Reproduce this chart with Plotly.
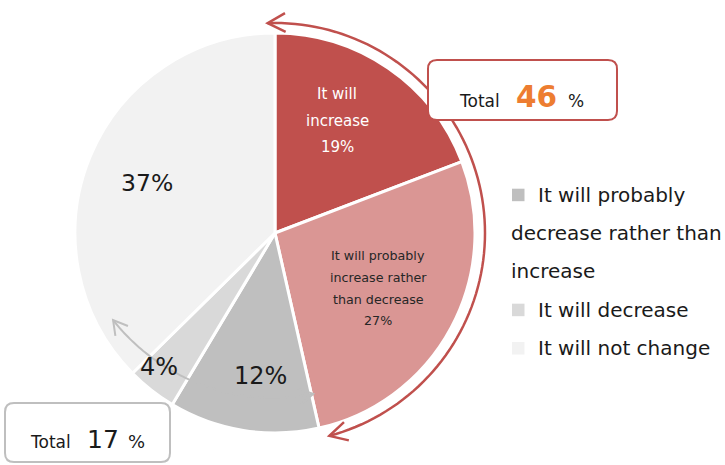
import numpy as np
import plotly.graph_objects as go

# ---------------- data ----------------
labels = [
    "It will increase",
    "It will probably increase rather than decrease",
    "It will probably decrease rather than increase",
    "It will decrease",
    "It will not change",
]
values = [19, 27, 12, 4, 37]
slice_text = [
    ["It will", "increase", "19%"],
    ["It will probably", "increase rather", "than decrease", "27%"],
    ["12%"],
    ["4%"],
    ["37%"],
]
legend_items = [2, 3, 4]
legend_lines = [
    ["It will probably", "decrease rather than", "increase"],
    ["It will decrease"],
    ["It will not change"],
]
total_increase = "46"
total_decrease = "17"

# ---------------- styles ----------------
W, H = 725, 465
FONT = "DejaVu Sans"
colors = ["#C0504D", "#DA9694", "#BFBFBF", "#D9D9D9", "#F2F2F2"]
CX, CY, R = 275, 233, 200  # pie centre / radius in px

def px(x):
    return x / W

def py(y):
    return 1 - y / H

fig = go.Figure()
fig.add_trace(go.Pie(
    labels=labels, values=values, sort=False, direction="clockwise", rotation=0,
    marker=dict(colors=colors, line=dict(color="white", width=3)),
    textinfo="none", hoverinfo="label+percent", showlegend=False,
    domain=dict(x=[px(CX - R), px(CX + R)], y=[py(CY + R), py(CY - R)]),
))

annotations = []
shapes = []

# slice labels, positioned from the slice mid-angles
label_style = [
    dict(size=15, color="#FFFFFF", gap=26.5, r=128.5, dth=-5.6),
    dict(size=12.7, color="#262626", gap=21.7, r=117, dth=0.0),
    dict(size=24, color="#1A1A1A", gap=0, r=143.7, dth=-3.3),
    dict(size=24, color="#1A1A1A", gap=0, r=177, dth=2.7),
    dict(size=23.5, color="#1A1A1A", gap=0, r=136.8, dth=-1.5),
]
tot = float(sum(values))
cum = 0.0
for i, v in enumerate(values):
    mid = (cum + v / 2) / tot * 360.0
    cum += v
    st = label_style[i]
    th = np.radians(mid + st["dth"])
    lx = CX + st["r"] * np.sin(th)
    ly = CY - st["r"] * np.cos(th)
    lines = slice_text[i]
    n = len(lines)
    for k, t in enumerate(lines):
        yy = ly + (k - (n - 1) / 2) * st["gap"]
        annotations.append(dict(
            x=px(lx), y=py(yy), xref="paper", yref="paper", text=t, showarrow=False,
            xanchor="center", yanchor="middle",
            font=dict(family=FONT, size=st["size"], color=st["color"]),
        ))

# curved arrows
def arc_path(cx, cy, r, t0, t1, n=90):
    th = np.radians(np.linspace(t0, t1, n))
    xs = cx + r * np.sin(th)
    ys = cy - r * np.cos(th)
    return xs, ys

def head(tip, direction, L, ang):
    d = np.array(direction) / np.linalg.norm(direction)
    pts = []
    for s in (1, -1):
        a = np.radians(ang) * s
        rot = np.array([d[0] * np.cos(a) - d[1] * np.sin(a), d[0] * np.sin(a) + d[1] * np.cos(a)])
        pts.append((tip[0] - L * rot[0], tip[1] - L * rot[1]))
    return pts

def poly_str(xs, ys):
    return "M " + " L ".join(f"{px(x):.5f},{py(y):.5f}" for x, y in zip(xs, ys))

def arrow_arc(cx, cy, r, t0, t1, color, width, L, ang):
    xs, ys = arc_path(cx, cy, r, t0, t1)
    shapes.append(dict(type="path", xref="paper", yref="paper", path=poly_str(xs, ys),
                       line=dict(color=color, width=width), layer="above"))
    a0, a1 = np.radians(t0), np.radians(t1)
    for tip, d in (((xs[0], ys[0]), (-np.cos(a0), -np.sin(a0))),
                   ((xs[-1], ys[-1]), (np.cos(a1), np.sin(a1)))):
        p1, p2 = head(tip, d, L, ang)
        shapes.append(dict(type="path", xref="paper", yref="paper",
                           path=poly_str([p1[0], tip[0], p2[0]], [p1[1], tip[1], p2[1]]),
                           line=dict(color=color, width=width), layer="above"))

arrow_arc(275, 233, 210, -2, 165, "#C0504D", 2.5, 20, 28)
arrow_arc(273.5, 193.4, 204.4, 168.8, 231.7, "#BFBFBF", 2, 16, 30)

# rounded boxes
def rrect(x0, y0, x1, y1, r):
    P = lambda x, y: f"{px(x):.5f},{py(y):.5f}"
    return (f"M {P(x0 + r, y0)} L {P(x1 - r, y0)} Q {P(x1, y0)} {P(x1, y0 + r)} "
            f"L {P(x1, y1 - r)} Q {P(x1, y1)} {P(x1 - r, y1)} L {P(x0 + r, y1)} "
            f"Q {P(x0, y1)} {P(x0, y1 - r)} L {P(x0, y0 + r)} Q {P(x0, y0)} {P(x0 + r, y0)} Z")

shapes.append(dict(type="path", xref="paper", yref="paper", path=rrect(428, 60, 617, 120, 9),
                   line=dict(color="#C0504D", width=2), fillcolor="white", layer="above"))
shapes.append(dict(type="path", xref="paper", yref="paper", path=rrect(5, 403, 170, 462, 9),
                   line=dict(color="#BFBFBF", width=2), fillcolor="white", layer="above"))

def base_text(x, baseline, text, size, color="#1A1A1A", bold=False):
    t = f"<b>{text}</b>" if bold else text
    annotations.append(dict(
        x=px(x - 1), y=py(baseline - 0.346 * size), xref="paper", yref="paper", text=t,
        showarrow=False, xanchor="left", yanchor="middle",
        font=dict(family=FONT, size=size, color=color),
    ))

base_text(458, 107, "Total", 17)
base_text(515, 107, total_increase, 29.5, color="#ED7D31", bold=True)
base_text(567, 107, "%", 17)
base_text(29, 448, "Total", 17)
base_text(86, 448, total_decrease, 25)
base_text(127, 448, "%", 18)

# custom legend
line_no = 0
for item, lines in zip(legend_items, legend_lines):
    b = 201.7 + 38.33 * line_no
    shapes.append(dict(type="rect", xref="paper", yref="paper",
                       x0=px(512), x1=px(524.5), y0=py(b - 13), y1=py(b - 0.5),
                       fillcolor=colors[item], line=dict(width=0), layer="above"))
    for k, t in enumerate(lines):
        bb = 201.7 + 38.33 * line_no
        base_text(537 if k == 0 else 510, bb, t, 20)
        line_no += 1

fig.update_layout(
    width=W, height=H, margin=dict(l=0, r=0, t=0, b=0),
    paper_bgcolor="white", plot_bgcolor="white",
    annotations=annotations, shapes=shapes, showlegend=False,
    font=dict(family=FONT),
)
fig.write_html("out.html", config={"displayModeBar": False},
               post_script="document.body.style.margin='0px';")
